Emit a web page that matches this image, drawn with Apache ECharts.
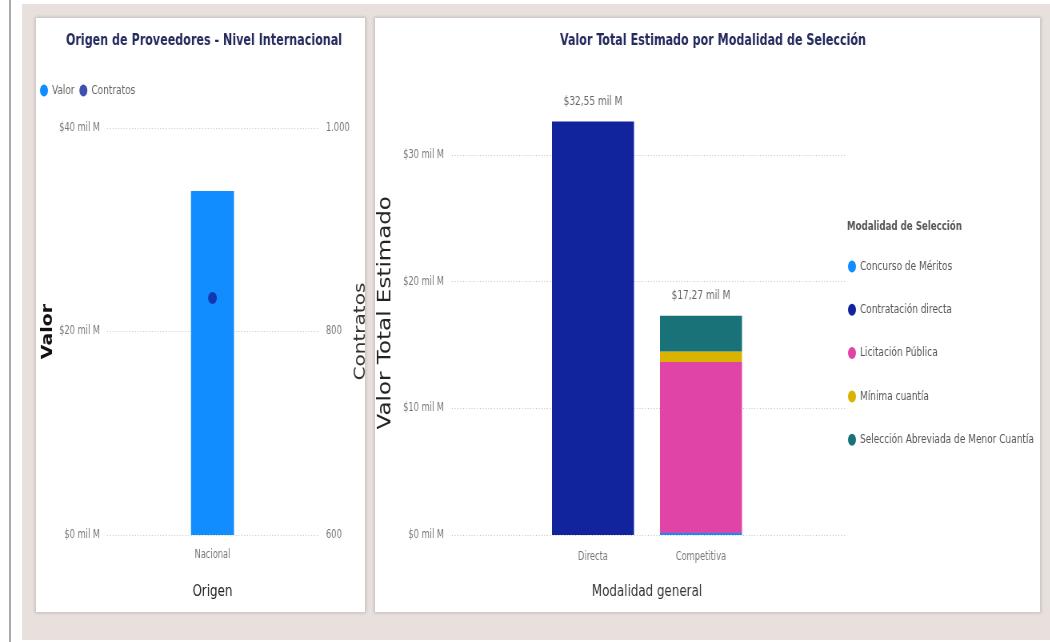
<!DOCTYPE html>
<html>
<head>
<meta charset="utf-8">
<script src="https://cdn.jsdelivr.net/npm/echarts@6/dist/echarts.min.js"></script>
<style>
  html, body { margin: 0; padding: 0; width: 1050px; height: 642px; background: #ffffff; overflow: hidden; }
  .vline { position: absolute; left: 9px; top: 0; width: 2px; height: 642px; background: #a9a9a9; }
  .bg { position: absolute; left: 22px; top: 4px; width: 1028px; height: 636px; background: #e7e0dc; }
  .panel { position: absolute; background: #ffffff; box-shadow: 0 0 3px 1px rgba(0,0,0,0.16); }
  #chart { position: absolute; left: 0; top: 0; width: 1313px; height: 642px; transform-origin: 0 0; transform: scaleX(0.8); }
</style>
</head>
<body>
<div class="vline"></div>
<div class="bg"></div>
<div class="panel" style="left:36px;top:18px;width:329px;height:594px;"></div>
<div class="panel" style="left:375px;top:18px;width:665px;height:594px;"></div>
<div id="chart"></div>
<script>
// ---- Data: Origen de Proveedores ----
const origenCategories = ['Nacional'];
const origenValor = [33.8];        // mil M
const origenContratos = [833];

// ---- Data: Valor Total Estimado por Modalidad ----
const modalidadGeneral = ['Directa', 'Competitiva'];
const modalidades = ['Concurso de Méritos', 'Contratación directa', 'Licitación Pública', 'Mínima cuantía', 'Selección Abreviada de Menor Cuantía'];
const concursoMeritos = [0, 0.16];
const contratacionDirecta = [32.55, 0];
const licitacionPublica = [0, 13.47];
const minimaCuantia = [0, 0.81];
const seleccionAbreviada = [0, 2.83];

const leftTicks = [0, 20, 40];
const rightTicks = [600, 800, 1000];
const modTicks = [0, 10, 20, 30];

const modSeries = [concursoMeritos, contratacionDirecta, licitacionPublica, minimaCuantia, seleccionAbreviada];
const modColors = ['#118DFF', '#12239E', '#E044A7', '#D9B300', '#197278'];
const totals = modalidadGeneral.map((_, i) => modSeries.reduce((s, arr) => s + arr[i], 0));

// the chart canvas is drawn wide and squeezed horizontally (like the reference)
const S = 0.8;
const sx = v => v / S;

const FONT = "'DejaVu Sans Condensed', 'DejaVu Sans', sans-serif";
const WIDE = "'DejaVu Sans', sans-serif";
const ELLIPSE = 'path://M0,6A5,6 0 1,1 10,6A5,6 0 1,1 0,6Z';

const fmtMil = v => '$' + v + ' mil M';
const fmtTotal = v => '$' + v.toFixed(2).replace('.', ',') + ' mil M';
const fmtThousands = v => String(v).replace(/\B(?=(\d{3})+(?!\d))/g, '.');

const splitDotted = { show: true, lineStyle: { color: '#bdbdbd', type: [1, 2.5], width: 1 } };

const chart = echarts.init(document.getElementById('chart'), null, { renderer: 'canvas' });

const series = [
  {
    name: 'Valor', type: 'bar', xAxisIndex: 0, yAxisIndex: 0,
    data: origenValor, barWidth: sx(43), itemStyle: { color: '#118DFF' }, z: 2
  },
  {
    name: 'Contratos', type: 'scatter', xAxisIndex: 0, yAxisIndex: 1,
    data: origenContratos, symbol: ELLIPSE, symbolSize: [11, 12],
    itemStyle: { color: '#12239E' }, z: 5
  }
];
modalidades.forEach((name, k) => {
  series.push({
    name: name, type: 'bar', stack: 'mod', xAxisIndex: 1, yAxisIndex: 3,
    data: modSeries[k], barWidth: sx(82), itemStyle: { color: modColors[k] }
  });
});
series.push({
  name: 'Total', type: 'bar', stack: 'mod', xAxisIndex: 1, yAxisIndex: 3,
  data: modalidadGeneral.map(() => 0), barWidth: sx(82), itemStyle: { color: 'transparent' },
  label: {
    show: true, position: 'top', distance: 13,
    formatter: p => fmtTotal(totals[p.dataIndex]),
    color: '#666', fontSize: 12.5, fontFamily: FONT
  }
});

chart.setOption({
  animation: false,
  backgroundColor: 'transparent',
  title: [
    { text: 'Origen de Proveedores - Nivel Internacional', left: sx(200), top: 28, textAlign: 'center',
      textStyle: { color: '#232a5c', fontSize: 15.5, fontWeight: 'bold', fontFamily: FONT } },
    { text: 'Valor Total Estimado por Modalidad de Selección', left: sx(709), top: 28, textAlign: 'center',
      textStyle: { color: '#232a5c', fontSize: 15.5, fontWeight: 'bold', fontFamily: FONT } },
    { text: 'Modalidad de Selección', left: sx(847), top: 221, padding: 0,
      textStyle: { color: '#555', fontSize: 12, fontWeight: 'bold', fontFamily: FONT } }
  ],
  legend: [
    { data: ['Valor', 'Contratos'], left: sx(40), top: 84, padding: 0, itemWidth: 10, itemHeight: 12, itemGap: 6,
      icon: ELLIPSE, textStyle: { color: '#666', fontSize: 12.5, fontFamily: FONT } },
    { data: modalidades, orient: 'vertical', left: sx(848), top: 260, padding: 0, itemWidth: 10, itemHeight: 12, itemGap: 30.3,
      icon: ELLIPSE, textStyle: { color: '#555', fontSize: 12.5, fontFamily: FONT } }
  ],
  grid: [
    { left: sx(107), top: 128, width: sx(211), height: 407 },
    { left: sx(452), top: 155, width: sx(393), height: 380 },
    { left: sx(539), top: 90.5, width: sx(216), height: 444.5 }
  ],
  xAxis: [
    { type: 'category', gridIndex: 0, data: origenCategories,
      axisLine: { show: false }, axisTick: { show: false },
      axisLabel: { color: '#777', fontSize: 11.5, fontFamily: FONT, margin: 14 },
      name: 'Origen', nameLocation: 'middle', nameGap: 48,
      nameTextStyle: { color: '#222', fontSize: 16.5, fontFamily: FONT } },
    { type: 'category', gridIndex: 2, data: modalidadGeneral,
      axisLine: { show: false }, axisTick: { show: false },
      axisLabel: { color: '#777', fontSize: 11.5, fontFamily: FONT, margin: 16 },
      name: 'Modalidad general', nameLocation: 'middle', nameGap: 48,
      nameTextStyle: { color: '#333', fontSize: 16.5, fontFamily: FONT } },
    { type: 'value', gridIndex: 1, show: false }
  ],
  yAxis: [
    { type: 'value', gridIndex: 0, min: leftTicks[0], max: leftTicks[leftTicks.length - 1], interval: 20,
      axisLine: { show: false }, axisTick: { show: false },
      axisLabel: { formatter: fmtMil, color: '#777', fontSize: 11.5, fontFamily: FONT, margin: sx(7) },
      splitLine: splitDotted,
      name: 'Valor', nameLocation: 'middle', nameGap: 61, nameRotate: 90,
      nameTextStyle: { color: '#111', fontSize: 19, fontWeight: 'bold', fontFamily: WIDE } },
    { type: 'value', gridIndex: 0, position: 'right', min: rightTicks[0], max: rightTicks[rightTicks.length - 1], interval: 200,
      axisLine: { show: false }, axisTick: { show: false },
      axisLabel: { formatter: fmtThousands, color: '#777', fontSize: 11.5, fontFamily: FONT, margin: sx(8) },
      splitLine: { show: false },
      name: 'Contratos', nameLocation: 'middle', nameGap: 32, nameRotate: 90,
      nameTextStyle: { color: '#333', fontSize: 20, fontFamily: WIDE } },
    { type: 'value', gridIndex: 1, min: modTicks[0], max: modTicks[modTicks.length - 1], interval: 10,
      axisLine: { show: false }, axisTick: { show: false },
      axisLabel: { formatter: fmtMil, color: '#777', fontSize: 11.5, fontFamily: FONT, margin: sx(8) },
      splitLine: splitDotted },
    { type: 'value', gridIndex: 2, min: 0, max: 35,
      axisLine: { show: false }, axisTick: { show: false }, axisLabel: { show: false },
      splitLine: { show: false },
      name: 'Valor Total Estimado', nameLocation: 'middle', nameGap: 180, nameRotate: 90,
      nameTextStyle: { color: '#222', fontSize: 23, fontFamily: WIDE } }
  ],
  series: series
});
</script>
</body>
</html>
